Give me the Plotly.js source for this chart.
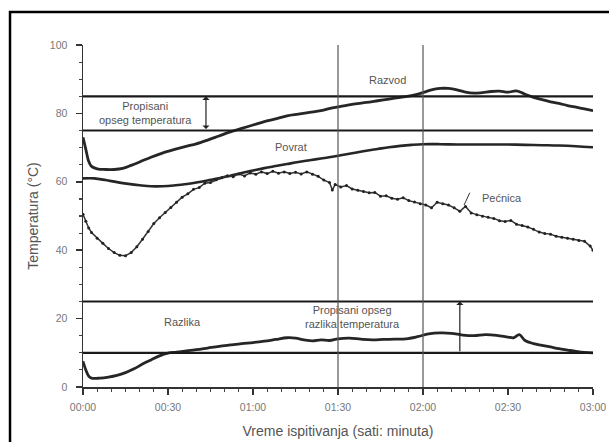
<!DOCTYPE html>
<html>
<head>
<meta charset="utf-8">
<script src="https://cdn.plot.ly/plotly-3.0.1.min.js"></script>
<style>html,body{margin:0;padding:0;background:#fff;}#chart{width:609px;height:442px;}</style>
</head>
<body>
<div id="chart"></div>
<script>
// Time in minutes from start, temperatures in °C
var razvodMin = [0,1,2,3,5,8,11,14,17,20,24,28,32,36,40,44,48,52,56,60,64,68,72,76,80,84,88,92,96,100,104,108,112,116,120,123,126,129,132,135,138,141,144,147,150,153,156,159,162,165,168,171,174,177,180];
var razvodT = [73,69.5,66,64.5,63.8,63.6,63.6,63.9,64.8,65.8,67.2,68.4,69.4,70.3,71.1,72.2,73.4,74.6,75.6,76.6,77.6,78.4,79.3,79.8,80.3,80.8,81.6,82.2,82.8,83.2,83.7,84.2,84.7,85.2,86.1,86.9,87.3,87.3,86.9,86.2,85.9,86.1,86.4,86.5,86.2,86.6,85.6,84.7,84.0,83.4,82.9,82.3,81.8,81.3,80.8];

var povratMin = [0,4,8,12,16,20,24,28,32,36,40,44,48,52,56,60,64,68,72,76,80,84,88,92,96,100,104,108,112,116,120,126,132,138,144,150,156,162,168,174,180];
var povratT = [61,61,60.5,59.9,59.4,59,58.7,58.7,58.9,59.3,59.8,60.4,61,61.8,62.6,63.3,64,64.6,65.2,65.8,66.3,66.8,67.3,67.9,68.5,69.1,69.6,70.1,70.5,70.8,71,71,70.9,70.9,70.9,70.9,70.8,70.7,70.6,70.4,70.1];

var pecnicaMin = [0,1,2,3,5,7,9,11,13,15,17,19,21,23,25,27,29,31,33,35,37,39,41,43,45,47,49,51,53,55,57,59,61,63,65,67,69,71,73,75,77,79,81,83,85,87,88,89,91,93,95,97,99,101,103,105,107,109,111,113,115,117,119,121,123,125,127,129,131,133,135,137,139,141,143,145,147,149,151,153,155,157,159,161,163,165,167,169,171,173,175,177,179,180];
var pecnicaT = [50.5,48.5,46.5,45.2,43.5,42,40.5,39.3,38.5,38.4,39.3,41,43.2,45.5,47.8,49.5,51,52.5,54,55.5,56.5,57.8,58.3,59.6,59.8,60.6,61.2,61.8,61.5,62.3,61.7,62.6,62.2,62.9,62.4,63.1,62.5,62.9,62.4,62.8,62.3,62.9,62.2,61.6,60.5,59.8,57.6,59.2,58.5,58.9,57.9,57.5,57.2,56.8,56.9,55.8,55.9,55.2,54.9,55.3,54.5,54.1,53.6,53.2,52.4,54,53.6,53.2,52.4,51.4,52.8,50.9,50.4,49.9,49.6,49.3,48.6,48.4,48.7,47.6,47.2,46.8,46.1,45.3,44.9,44.7,44.1,43.8,43.5,43.2,42.8,42.6,41.2,40];

var razlikaMin = [0,1,2,3,6,9,12,15,18,21,24,27,30,33,36,40,44,48,52,56,60,64,68,72,75,78,81,84,87,90,94,98,102,106,110,114,118,122,126,130,134,138,142,146,150,152,154,156,159,162,165,168,171,174,177,180];
var razlikaT = [7.5,5,3.2,2.6,2.6,2.9,3.4,4.2,5.3,6.7,7.9,9.1,9.9,10.2,10.5,10.9,11.4,11.9,12.3,12.7,13,13.4,13.9,14.4,14.3,13.8,13.5,13.8,13.6,14.1,14.3,14.0,13.8,13.9,14.0,14.1,14.7,15.5,15.8,15.7,15.2,15.0,15.3,15.1,14.6,14.4,15.3,13.6,12.7,12.2,11.7,11.2,10.8,10.4,10.1,10];

var xTickVals = [0,30,60,90,120,150,180];
var xTickText = ["00:00","00:30","01:00","01:30","02:00","02:30","03:00"];
var yTickVals = [0,20,40,60,80,100];

// Prescribed ranges and marker times
var tempRange = [75,85];
var diffRange = [10,25];
var markTimes = [90,120];

var lineCol = '#262626';
var traces = [
  {x: razvodMin, y: razvodT, mode: 'lines', line: {color: lineCol, width: 2.8, shape: 'spline'}, name: 'Razvod'},
  {x: povratMin, y: povratT, mode: 'lines', line: {color: lineCol, width: 2.6, shape: 'spline'}, name: 'Povrat'},
  {x: pecnicaMin, y: pecnicaT, mode: 'lines+markers', line: {color: '#333', width: 1.5}, marker: {size: 3, color: '#222'}, name: 'Pećnica'},
  {x: razlikaMin, y: razlikaT, mode: 'lines', line: {color: lineCol, width: 2.8, shape: 'spline'}, name: 'Razlika'}
];

var shapes = [];
tempRange.concat(diffRange).forEach(function(v){
  shapes.push({type:'line', xref:'x', yref:'y', x0:0, x1:180, y0:v, y1:v, line:{color:'#1a1a1a', width:2.2}});
});
markTimes.forEach(function(t){
  shapes.push({type:'line', xref:'x', yref:'y', x0:t, x1:t, y0:0, y1:100, line:{color:'#555', width:1.2}});
});
// pointer for Pećnica label
shapes.push({type:'line', xref:'x', yref:'y', x0:136.5, x1:134.5, y0:56.8, y1:53.2, line:{color:'#333', width:1}});
// outer frame
shapes.push({type:'rect', xref:'paper', yref:'paper', x0:-0.1431, x1:1.2, y0:-0.4, y1:1.0965, line:{color:'#000', width:2.5}});

var txtFont = {family: 'Liberation Sans, Arial, sans-serif', size: 11, color: '#555'};
var annotations = [
  {x: 181.5, y: 100, xref:'x', yref:'y', text:'Varijanta 1b – ugalj', showarrow:false, xanchor:'right', yanchor:'middle', font:{family:'Liberation Sans, Arial, sans-serif', size:14, color:'#444'}},
  {x: 107.3, y: 89.8, xref:'x', yref:'y', text:'Razvod', showarrow:false, font: txtFont},
  {x: 73.4, y: 70.2, xref:'x', yref:'y', text:'Povrat', showarrow:false, font: txtFont},
  {x: 148, y: 55.3, xref:'x', yref:'y', text:'Pećnica', showarrow:false, font: txtFont},
  {x: 21.9, y: 80.2, xref:'x', yref:'y', text:'Propisani<br>opseg temperatura', showarrow:false, font: txtFont},
  {x: 35, y: 19, xref:'x', yref:'y', text:'Razlika', showarrow:false, font: txtFont},
  {x: 95, y: 20.6, xref:'x', yref:'y', text:'Propisani opseg<br>razlika temperatura', showarrow:false, font: txtFont},
  {x: 43.4, y: tempRange[1], ax: 43.4, ay: tempRange[0], xref:'x', yref:'y', axref:'x', ayref:'y', text:'', showarrow:true, arrowhead:1, startarrowhead:1, arrowside:'end+start', arrowwidth:1.2, arrowcolor:'#222', arrowsize:1, standoff:0, startstandoff:0},
  {x: 133, y: diffRange[1], ax: 133, ay: diffRange[0], xref:'x', yref:'y', axref:'x', ayref:'y', text:'', showarrow:true, arrowhead:1, startarrowhead:1, arrowside:'end', arrowwidth:1.2, arrowcolor:'#222', arrowsize:1, standoff:0, startstandoff:0}
];

var layout = {
  width: 609, height: 442,
  margin: {l: 83, r: 16, t: 45, b: 55},
  paper_bgcolor: '#fff', plot_bgcolor: '#fff',
  showlegend: false,
  font: {family: 'Liberation Sans, Arial, sans-serif', color: '#666'},
  xaxis: {
    range: [0, 180], tickvals: xTickVals, ticktext: xTickText,
    showgrid: false, zeroline: false, showline: true, linecolor: '#333', linewidth: 1.5,
    ticks: 'outside', ticklen: 6, tickwidth: 1.5, tickcolor: '#333',
    minor: {dtick: 5, tick0: 0, ticks: 'outside', ticklen: 3, tickcolor: '#444', tickwidth: 1.2, showgrid: false},
    tickfont: {size: 10.5, color: '#777'}, ticklabelstandoff: 4,
    title: {text: 'Vreme ispitivanja (sati: minuta)', font: {size: 14, color: '#555'}, standoff: 14},
    automargin: false, fixedrange: true
  },
  yaxis: {
    range: [0, 100], tickvals: yTickVals,
    showgrid: false, zeroline: false, showline: true, linecolor: '#333', linewidth: 1.5,
    ticks: 'outside', ticklen: 6, tickwidth: 1.5, tickcolor: '#333',
    minor: {dtick: 5, tick0: 0, ticks: 'outside', ticklen: 3, tickcolor: '#444', tickwidth: 1.2, showgrid: false},
    tickfont: {size: 10.5, color: '#777'}, ticklabelstandoff: 6,
    title: {text: 'Temperatura (°C)', font: {size: 14, color: '#555'}, standoff: 8},
    automargin: false, fixedrange: true
  },
  shapes: shapes,
  annotations: annotations
};

Plotly.newPlot('chart', traces, layout, {displayModeBar: false, staticPlot: true});
</script>
</body>
</html>
